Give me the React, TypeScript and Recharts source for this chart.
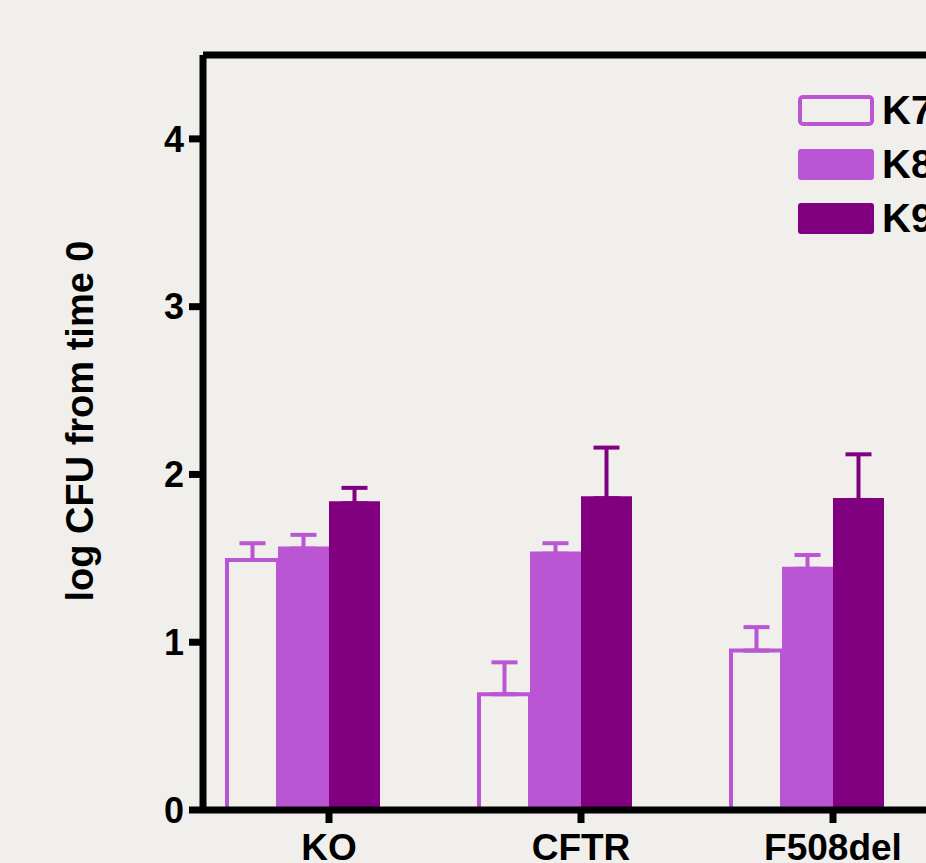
import React from 'react';
import { BarChart, Bar, XAxis, YAxis, ErrorBar, Legend, ReferenceLine, Label } from 'recharts';

const categories = ['KO', 'CFTR', 'F508del'];
const k7Values = [1.49, 0.69, 0.95];
const k7Errors = [0.1, 0.19, 0.14];
const k8Values = [1.57, 1.54, 1.45];
const k8Errors = [0.07, 0.05, 0.07];
const k9Values = [1.84, 1.87, 1.86];
const k9Errors = [0.08, 0.29, 0.26];
const yTicks = [0, 1, 2, 3, 4];

const LIGHT = '#BA55D3';
const DARK = '#800080';
const BG = '#f0efeb';
const FONT = '"Liberation Sans", Arial, sans-serif';

const series = [
  { key: 'k7', name: 'K7', fill: 'none', stroke: LIGHT, err: LIGHT },
  { key: 'k8', name: 'K8', fill: LIGHT, stroke: 'none', err: LIGHT },
  { key: 'k9', name: 'K9', fill: DARK, stroke: 'none', err: DARK },
];

const data = categories.map((name, i) => ({
  name,
  k7: k7Values[i],
  k7Err: k7Errors[i],
  k8: k8Values[i],
  k8Err: k8Errors[i],
  k9: k9Values[i],
  k9Err: k9Errors[i],
}));

// upward-only error bars; on filled bars the unused lower cap is tucked
// just under the bar top so it hides inside the bar
const CAP_TUCK = 0.012;
const errKey = (key: string, filled: boolean) => (d: any) => [filled ? CAP_TUCK : 0, d[`${key}Err`]];

// ticks sit 25px right of the group centre, like the original layout
const XTick = (props: any) => {
  const { x, y, payload } = props;
  const tx = x + 25;
  return (
    <g>
      <line x1={tx} y1={y} x2={tx} y2={y + 13} stroke="#000" strokeWidth={7} />
      <text x={tx} y={y + 50} textAnchor="middle" fontSize={37} fontWeight={700} fontFamily={FONT} fill="#000">
        {payload.value}
      </text>
    </g>
  );
};

const LegendBox = () => (
  <svg width={200} height={170} style={{ overflow: 'visible' }}>
    {series.map((s, i) => (
      <g key={s.key}>
        {s.fill === 'none' ? (
          <rect x={3} y={7 + 54 * i} width={72} height={27} rx={3} fill="none" stroke={s.stroke} strokeWidth={4} />
        ) : (
          <rect x={1} y={5 + 54 * i} width={76} height={31} rx={3} fill={s.fill} />
        )}
        <text x={85} y={34 + 54 * i} fontSize={40} fontWeight={700} fontFamily={FONT} fill="#000">
          {s.name}
        </text>
      </g>
    ))}
  </svg>
);

const YTitle = () => (
  <text
    transform="translate(93, 421) rotate(-90)"
    x={0}
    y={0}
    textAnchor="middle"
    fontSize={38}
    fontWeight={700}
    fontFamily={FONT}
    fill="#000"
  >
    log CFU from time 0
  </text>
);

export default function App() {
  return (
    <div
      style={{
        position: 'fixed',
        top: 0,
        left: 0,
        width: 926,
        height: 863,
        overflow: 'hidden',
        background: BG,
      }}
    >
      <BarChart
        width={960}
        height={863}
        data={data}
        margin={{ top: 55, right: 26, bottom: 0, left: 0 }}
        barCategoryGap={49}
        barGap={0}
      >
        <XAxis
          dataKey="name"
          height={53}
          padding={{ left: -25, right: 0 }}
          axisLine={{ stroke: '#000', strokeWidth: 7 }}
          tickLine={false}
          tickSize={0}
          tickMargin={0}
          tick={<XTick />}
          interval={0}
        />
        <YAxis
          width={203}
          domain={[0, 4.5]}
          ticks={yTicks}
          allowDataOverflow
          axisLine={{ stroke: '#000', strokeWidth: 7 }}
          tickLine={{ stroke: '#000', strokeWidth: 7 }}
          tickSize={14}
          tickMargin={5}
          tick={{ fontSize: 36, fontWeight: 700, fill: '#000', fontFamily: FONT }}
        >
          <Label content={<YTitle />} />
        </YAxis>
        <ReferenceLine y={4.5} stroke="#000" strokeWidth={7} />
        {series.map((s) => (
          <Bar
            key={s.key}
            dataKey={s.key}
            name={s.name}
            fill={s.fill}
            stroke={s.stroke}
            strokeWidth={s.fill === 'none' ? 4 : 0}
            isAnimationActive={false}
          >
            <ErrorBar
              dataKey={errKey(s.key, s.fill !== 'none')}
              direction="y"
              width={13}
              stroke={s.err}
              strokeWidth={4}
              isAnimationActive={false}
            />
          </Bar>
        ))}
        <Legend
          layout="vertical"
          align="center"
          verticalAlign="middle"
          content={<LegendBox />}
          wrapperStyle={{ position: 'absolute', left: 797, top: 90, width: 200, height: 170 }}
        />
      </BarChart>
    </div>
  );
}
